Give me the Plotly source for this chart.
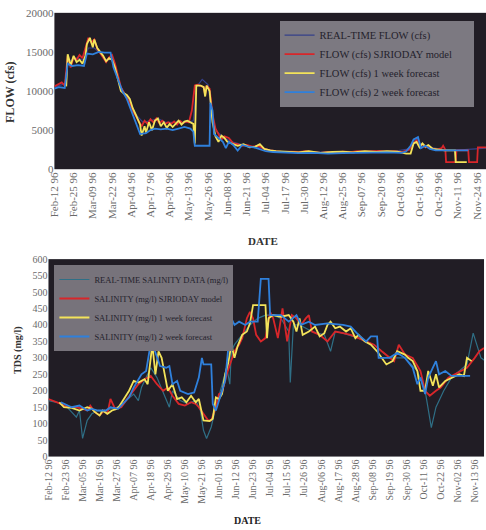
import pandas as pd
import plotly.graph_objects as go

BASE = pd.Timestamp("1996-02-12")

# ---------------- FLOW chart data (day offset from Feb-12-96, cfs) ----------------
flow_rt_days = [0, 5, 8, 9, 15, 20, 23, 27, 30, 35, 40, 45, 50, 55, 60, 65, 70, 75, 80, 85, 90, 94, 96, 100, 104, 107, 110, 115, 120, 130, 140, 150, 170, 200, 230, 240, 245, 248, 255, 262, 270, 285, 292]
flow_rt_vals = [10500, 10800, 11000, 13800, 14200, 14000, 15500, 15500, 15000, 14000, 14000, 10500, 9000, 7000, 6000, 6200, 6500, 6000, 6000, 6000, 6000, 6200, 10500, 11500, 10800, 6000, 4800, 4000, 3500, 3000, 2700, 2300, 2200, 2200, 2300, 2600, 4000, 3000, 2800, 2500, 2400, 2600, 2700]

flow_model_days = [0, 3, 5, 7, 9, 11, 13, 15, 17, 19, 21, 23, 25, 27, 29, 31, 33, 35, 37, 39, 41, 43, 45, 47, 49, 51, 53, 55, 57, 59, 61, 63, 65, 67, 69, 71, 73, 75, 77, 79, 81, 83, 85, 87, 89, 91, 93, 95, 97, 99, 101, 102, 103, 105, 107, 109, 111, 113, 115, 118, 121, 124, 127, 130, 134, 138, 142, 146, 150, 155, 160, 165, 170, 175, 180, 185, 190, 195, 200, 205, 210, 215, 220, 225, 230, 235, 240, 243, 245, 247, 249, 251, 253, 256, 259, 262, 263, 264.5, 265, 271.5, 272, 280, 280.5, 286, 286.5, 292]
flow_model_vals = [10600, 10900, 11100, 10700, 14500, 13000, 14300, 14000, 14600, 14200, 15500, 16800, 16200, 16600, 15400, 14800, 14300, 13700, 14300, 14600, 13500, 12000, 10500, 9800, 9200, 8500, 7500, 6800, 6000, 5500, 6200, 5800, 6400, 6000, 6500, 5900, 6200, 5800, 6000, 5800, 6100, 5700, 6200, 5900, 6100, 6000, 7500, 10700, 10800, 10600, 10500, 9500, 10700, 10300, 7000, 5200, 4500, 3800, 4200, 4000, 3300, 3200, 3000, 3100, 2900, 3000, 2600, 2400, 2300, 2200, 2250, 2200, 2300, 2200, 2100, 2200, 2100, 2250, 2200, 2300, 2250, 2300, 2350, 2250, 2300, 2200, 2500, 3300, 3700, 3000, 3200, 2800, 3000, 2600, 2500, 2700, 3000, 2500, 900, 900, 2400, 2400, 900, 900, 2800, 2800]

flow_1wk_days = [8, 9, 11, 13, 15, 17, 19, 21, 22, 24, 26, 27, 29, 31, 33, 35, 37, 39, 41, 43, 45, 47, 49, 51, 53, 55, 57, 58, 59, 61, 62, 64, 66, 68, 70, 72, 74, 76, 78, 80, 82, 84, 86, 88, 90, 92, 94, 95, 96, 99, 101, 102, 103, 105, 107, 109, 111, 113, 115, 117, 120, 124, 128, 132, 136, 139, 142, 146, 150, 158, 165, 172, 180, 188, 195, 202, 210, 218, 225, 232, 238, 241, 243, 245, 247, 249, 251, 253, 256, 260, 264, 271, 271.5, 279]
flow_1wk_vals = [10600, 14700, 13300, 14500, 13700, 14000, 13500, 14500, 16000, 16800, 15600, 16600, 15500, 15000, 14500, 13800, 14200, 14000, 13000, 11500, 10000, 9700, 9500, 9000, 7800, 7000, 6000, 5700, 4300, 5500, 4700, 6000, 5000, 6200, 6500, 5500, 6000, 5300, 5800, 5400, 5800, 6200, 5700, 6100, 6200, 6000, 5800, 3300, 10700, 10700, 10500, 9300, 10700, 10000, 6000, 4200, 3500, 4300, 4000, 3500, 3300, 3000, 3200, 2800, 2900, 3200, 2600, 2400, 2300, 2200, 2150, 2300, 2100, 2200, 2250, 2150, 2300, 2200, 2300, 2250, 2000, 2000, 3300, 3500, 2800, 3300, 2900, 3100, 2600, 2500, 2400, 2400, 900, 900]

flow_2wk_days = [0, 3, 7, 9, 12, 16, 20, 22, 26, 30, 34, 38, 40, 43, 46, 49, 52, 55, 58, 62, 65, 68, 72, 76, 80, 84, 88, 92, 94, 95, 105, 105.5, 107, 108, 111, 114, 116, 118, 121, 124, 127, 131, 135, 139, 143, 148, 155, 165, 175, 185, 195, 205, 215, 225, 235, 238, 241, 243, 246, 248, 251, 254, 258, 280]
flow_2wk_vals = [10300, 10500, 10400, 13500, 13200, 13300, 13200, 14800, 14700, 15000, 14900, 14900, 13000, 11500, 10000, 9000, 7500, 6200, 4500, 4600, 5000, 5200, 5100, 5200, 5000, 5200, 5400, 5200, 4800, 3000, 3000, 8500, 7500, 4500, 4000, 3500, 2700, 3500, 3100, 2400, 3100, 2900, 2800, 2500, 2300, 2200, 2100, 2050, 2100, 2000, 2050, 2100, 2100, 2150, 2100, 2300, 3000, 3800, 4100, 2700, 3000, 2600, 2400, 2400]

flow_tick_days = [0, 13, 26, 39, 52, 65, 78, 91, 104, 117, 130, 143, 156, 169, 182, 195, 208, 221, 234, 247, 260, 273, 286]
flow_tick_text = ["Feb-12 96", "Feb-25 96", "Mar-09 96", "Mar-22 96", "Apr-04 96", "Apr-17 96", "Apr-30 96", "May-13 96", "May-26 96", "Jun-08 96", "Jun-21 96", "Jul-04 96", "Jul-17 96", "Jul-30 96", "Aug-12 96", "Aug-25 96", "Sep-07 96", "Sep-20 96", "Oct-03 96", "Oct-16 96", "Oct-29 96", "Nov-11 96", "Nov-24 96"]
flow_y_ticks = [0, 5000, 10000, 15000, 20000]
flow_y_text = ["0", "5000", "10000", "15000", "20000"]

# ---------------- SALINITY chart data (day offset, mg/l) ----------------
sal_rt_days = [0, 5, 10, 15, 18, 20, 22, 25, 28, 32, 36, 40, 45, 50, 55, 58, 60, 63, 66, 70, 75, 78, 80, 85, 90, 95, 98, 100, 102, 105, 108, 112, 115, 117, 118, 120, 125, 130, 135, 140, 145, 150, 155, 156, 158, 162, 170, 178, 182, 185, 190, 200, 210, 220, 230, 238, 243, 247, 250, 255, 260, 265, 270, 274, 279, 282]
sal_rt_vals = [170, 165, 160, 135, 120, 140, 55, 110, 130, 140, 135, 145, 150, 170, 190, 170, 210, 240, 270, 240, 180, 150, 200, 170, 160, 170, 140, 80, 55, 90, 150, 220, 270, 220, 320, 340, 370, 400, 420, 430, 430, 420, 380, 225, 400, 400, 380, 370, 320, 380, 375, 360, 340, 300, 300, 260, 200, 88, 150, 200, 240, 260, 280, 375, 300, 290]

sal_model_days = [0, 3, 6, 8, 12, 18, 22, 25, 27, 30, 33, 36, 38, 40, 43, 47, 50, 55, 58, 62, 66, 70, 74, 77, 80, 84, 88, 92, 95, 97, 100, 103, 105, 108, 110, 112, 115, 118, 120, 123, 125, 128, 130, 132, 134, 137, 140, 143, 145, 148, 151, 154, 157, 160, 163, 166, 168, 170, 175, 180, 185, 190, 195, 200, 205, 210, 215, 220, 223, 226, 230, 235, 240, 243, 246, 250, 253, 258, 262, 265, 270, 275, 278, 281]
sal_model_vals = [175, 170, 165, 160, 150, 150, 145, 140, 155, 135, 125, 140, 130, 175, 145, 150, 170, 200, 220, 235, 245, 220, 200, 210, 185, 160, 155, 165, 160, 150, 130, 110, 110, 150, 190, 195, 250, 290, 320, 340, 360, 420, 440, 420, 370, 350, 360, 440, 420, 360, 450, 350, 430, 420, 400, 420, 430, 380, 370, 350, 380, 375, 370, 360, 350, 340, 320, 300, 290, 340, 310, 300, 260, 200, 185, 200, 210, 240, 250, 260, 270, 300, 320, 330]

sal_1wk_days = [7, 10, 15, 20, 25, 28, 30, 33, 35, 38, 41, 44, 46, 52, 55, 58, 62, 64, 67, 69, 71, 73, 75, 77, 80, 83, 86, 89, 92, 95, 97, 100, 104, 106, 108, 110, 112, 114, 116, 118, 120, 122, 125, 128, 130, 132, 140, 141, 142, 145, 150, 155, 158, 160, 162, 164, 168, 172, 175, 178, 180, 182, 185, 188, 192, 195, 198, 200, 204, 208, 212, 215, 218, 222, 225, 230, 232, 235, 238, 240, 243, 245, 248, 250, 252, 256, 260, 265, 268, 270, 273]
sal_1wk_vals = [165, 150, 148, 140, 150, 145, 135, 125, 140, 130, 140, 145, 155, 200, 230, 225, 235, 220, 340, 250, 320, 300, 250, 200, 220, 175, 180, 165, 185, 165, 175, 110, 108, 115, 180, 175, 190, 250, 285, 340, 300, 335, 370, 380, 405, 460, 460, 360, 420, 430, 425, 430, 410, 380, 420, 370, 380, 395, 365, 375, 400, 410, 390, 395, 380, 390, 360, 370, 350, 340, 320, 300, 280, 290, 320, 310, 300, 290, 260, 200, 200, 260, 215, 250, 210, 230, 240, 250, 245, 300, 290]

sal_2wk_days = [8, 10, 15, 20, 25, 28, 32, 37, 40, 45, 52, 55, 60, 63, 66, 68, 72, 76, 78, 80, 83, 85, 90, 94, 97, 99, 100, 105, 106, 108, 110, 112, 114, 116, 118, 120, 123, 127, 130, 135, 137, 142, 143, 150, 155, 160, 163, 168, 172, 180, 190, 195, 200, 205, 208, 212, 213, 220, 225, 230, 235, 238, 240, 243, 245, 248, 250, 252, 256, 260, 265, 272]
sal_2wk_vals = [165, 160, 150, 155, 140, 145, 140, 140, 150, 145, 180, 210, 250, 260, 345, 330, 275, 270, 275, 220, 230, 200, 190, 195, 240, 300, 280, 280, 160, 140, 170, 200, 230, 330, 420, 400, 410, 400, 410, 410, 540, 540, 430, 430, 410, 430, 400, 410, 400, 405, 400, 395, 370, 350, 365, 365, 300, 300, 315, 300, 270, 220, 240, 190, 240, 270, 290, 250, 260, 245, 245, 245]

sal_tick_days = [0, 11, 22, 33, 44, 55, 66, 77, 88, 99, 110, 121, 132, 143, 154, 165, 176, 187, 198, 209, 220, 231, 242, 253, 264, 275]
sal_tick_text = ["Feb-12 96", "Feb-23 96", "Mar-05 96", "Mar-16 96", "Mar-27 96", "Apr-07 96", "Apr-18 96", "Apr-29 96", "May-10 96", "May-21 96", "Jun-01 96", "Jun-12 96", "Jun-23 96", "Jul-04 96", "Jul-15 96", "Jul-26 96", "Aug-06 96", "Aug-17 96", "Aug-28 96", "Sep-08 96", "Sep-19 96", "Sep-30 96", "Oct-11 96", "Oct-22 96", "Nov-02 96", "Nov-13 96"]
sal_y_ticks = list(range(0, 601, 50))


def to_dates(days):
    return [BASE + pd.Timedelta(hours=24 * d) for d in days]


SERIF = "Liberation Serif, Times New Roman, serif"
C_RT_FLOW = "#34408a"
C_RT_SAL = "#2f6f86"
C_RED = "#d8262a"
C_YEL = "#f3e35a"
C_BLUE = "#2f80dc"
PAD = "\u00a0" * 6

fig = go.Figure()

# Top chart traces
fig.add_trace(go.Scatter(x=to_dates(flow_rt_days), y=flow_rt_vals, mode="lines", name="REAL-TIME FLOW (cfs)",
                         line=dict(color=C_RT_FLOW, width=1.2), xaxis="x", yaxis="y", legend="legend"))
fig.add_trace(go.Scatter(x=to_dates(flow_model_days), y=flow_model_vals, mode="lines", name="FLOW (cfs) SJRIODAY model" + PAD,
                         line=dict(color=C_RED, width=1.8), xaxis="x", yaxis="y", legend="legend"))
fig.add_trace(go.Scatter(x=to_dates(flow_1wk_days), y=flow_1wk_vals, mode="lines", name="FLOW (cfs) 1 week forecast",
                         line=dict(color=C_YEL, width=1.8), xaxis="x", yaxis="y", legend="legend"))
fig.add_trace(go.Scatter(x=to_dates(flow_2wk_days), y=flow_2wk_vals, mode="lines", name="FLOW (cfs) 2 week forecast",
                         line=dict(color=C_BLUE, width=1.8), xaxis="x", yaxis="y", legend="legend"))

# Bottom chart traces
fig.add_trace(go.Scatter(x=to_dates(sal_rt_days), y=sal_rt_vals, mode="lines", name="REAL-TIME SALINITY DATA (mg/l)",
                         line=dict(color=C_RT_SAL, width=1.2), xaxis="x2", yaxis="y2", legend="legend2"))
fig.add_trace(go.Scatter(x=to_dates(sal_model_days), y=sal_model_vals, mode="lines", name="SALINITY (mg/l) SJRIODAY model",
                         line=dict(color=C_RED, width=1.8), xaxis="x2", yaxis="y2", legend="legend2"))
fig.add_trace(go.Scatter(x=to_dates(sal_1wk_days), y=sal_1wk_vals, mode="lines", name="SALINITY (mg/l) 1 week forecast",
                         line=dict(color=C_YEL, width=1.8), xaxis="x2", yaxis="y2", legend="legend2"))
fig.add_trace(go.Scatter(x=to_dates(sal_2wk_days), y=sal_2wk_vals, mode="lines", name="SALINITY (mg/l) 2 week forecast",
                         line=dict(color=C_BLUE, width=1.8), xaxis="x2", yaxis="y2", legend="legend2"))

W, H = 486, 530
tick_font = dict(family=SERIF, size=11, color="#6a6a6a")
tick_font2 = dict(family=SERIF, size=10, color="#6a6a6a")

fig.update_layout(
    width=W, height=H,
    margin=dict(l=0, r=0, t=0, b=0),
    paper_bgcolor="white",
    plot_bgcolor="#211d25",
    showlegend=True,
    xaxis=dict(domain=[49 / W, 1.0], anchor="y", type="date",
               range=[BASE, BASE + pd.Timedelta(days=292)],
               tickvals=to_dates(flow_tick_days), ticktext=flow_tick_text, tickangle=-90,
               tickfont=tick_font, showgrid=False, zeroline=False, showline=False, ticks=""),
    yaxis=dict(domain=[1 - 167 / H, 1 - 7 / H], anchor="x", range=[0, 20000],
               tickvals=flow_y_ticks, ticktext=flow_y_text, tickfont=tick_font,
               showgrid=False, zeroline=False, showline=False, ticks=""),
    xaxis2=dict(domain=[43 / W, 484 / W], anchor="y2", type="date",
                range=[BASE, BASE + pd.Timedelta(days=281)],
                tickvals=to_dates(sal_tick_days), ticktext=sal_tick_text, tickangle=-90,
                tickfont=tick_font2, showgrid=False, zeroline=False, showline=False, ticks=""),
    yaxis2=dict(domain=[1 - 461 / H, 1 - 259 / H], anchor="x2", range=[0, 600],
                tickvals=sal_y_ticks, tickfont=tick_font2,
                showgrid=False, zeroline=False, showline=False, ticks=""),
    legend=dict(x=277 / W, y=1 - 15 / H, xanchor="left", yanchor="top",
                bgcolor="#7c7981", borderwidth=0,
                font=dict(family=SERIF, size=10.5, color="#24222c"),
                tracegroupgap=0, itemwidth=30),
    legend2=dict(x=49 / W, y=1 - 265 / H, xanchor="left", yanchor="top",
                 bgcolor="#77737b", borderwidth=0,
                 font=dict(family=SERIF, size=8.5, color="#24222c"),
                 tracegroupgap=0, itemwidth=30),
    annotations=[
        dict(text="<b>FLOW (cfs)</b>", x=4 / W, y=1 - 88 / H, xref="paper", yref="paper",
             xanchor="center", yanchor="middle",
             textangle=-90, showarrow=False, font=dict(family=SERIF, size=12, color="#333")),
        dict(text="<b>DATE</b>", x=260 / W, y=1 - 240 / H, xref="paper", yref="paper",
             xanchor="center", yanchor="middle",
             showarrow=False, font=dict(family=SERIF, size=11, color="#333")),
        dict(text="<b>TDS (mg/l)</b>", x=12 / W, y=1 - 352 / H, xref="paper", yref="paper",
             xanchor="center", yanchor="middle",
             textangle=-90, showarrow=False, font=dict(family=SERIF, size=10, color="#333")),
        dict(text="<b>DATE</b>", x=245 / W, y=1 - 526 / H, xref="paper", yref="paper",
             xanchor="center", yanchor="middle",
             showarrow=False, font=dict(family=SERIF, size=10, color="#222")),
    ],
)

fig.write_html("out.html")
